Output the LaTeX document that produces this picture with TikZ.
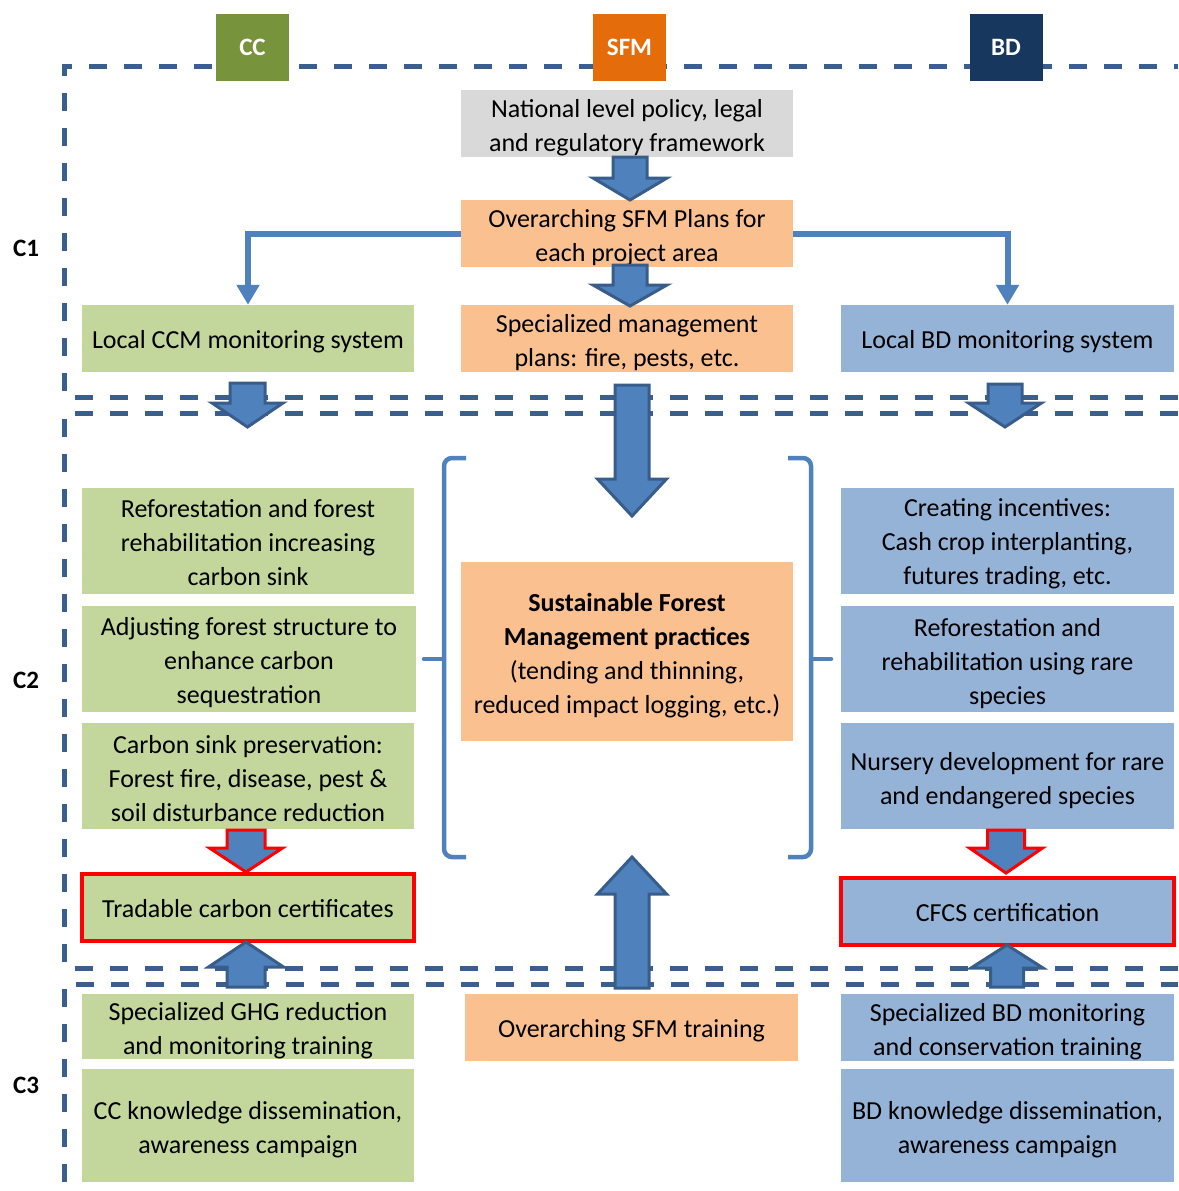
\documentclass[tikz,border=0pt]{standalone}
\usepackage{fontspec}
\setmainfont{Carlito}
\usetikzlibrary{arrows.meta}
\definecolor{cgreen}{HTML}{C3D69B}
\definecolor{cblue}{HTML}{95B3D7}
\definecolor{corange}{HTML}{FAC090}
\definecolor{cgray}{HTML}{D9D9D9}
\definecolor{hcc}{HTML}{77933C}
\definecolor{hsfm}{HTML}{E46C0A}
\definecolor{hbd}{HTML}{17375E}
\definecolor{arrfill}{HTML}{4F81BD}
\definecolor{arrline}{HTML}{385D8A}
\definecolor{dashcol}{HTML}{3A5F8E}
\newcommand\blockarr[7][arrline]{%
  \filldraw[fill=arrfill,draw=#1,line width=3pt,line join=miter]
    ({#2-#6/2},#3) -- ({#2+#6/2},#3) -- ({#2+#6/2},#4) -- ({#2+#7/2},#4)
    -- (#2,#5) -- ({#2-#7/2},#4) -- ({#2-#6/2},#4) -- cycle;}
\begin{document}
\begin{tikzpicture}[x=1pt,y=-1pt,
  bg/.style={rectangle,inner sep=0pt},
  txt/.style={inner sep=0pt,align=center,font=\fontsize{26}{34}\selectfont},
  hdr/.style={rectangle,inner sep=0pt,minimum width=73pt,minimum height=67pt,text=white,font=\fontsize{25}{30}\selectfont\bfseries},
  clab/.style={inner sep=0pt,font=\fontsize{25}{28}\selectfont\bfseries},
  dframe/.style={draw=dashcol,line width=5pt,dash pattern=on 18pt off 17pt},
  conn/.style={draw=arrfill,line width=6pt,-{Triangle[width=22pt,length=20pt]}},
  brk/.style={draw=arrfill,line width=4.5pt,rounded corners=8pt},
  redbox/.style={draw=red,line width=4pt}]
\useasboundingbox (0,0) rectangle (1178,1191);
% dashed frames
\draw[dframe] (1178,397) -- (64,397) -- (64,66) -- (1178,66);
\draw[dframe] (1178,968) -- (64,968) -- (64,413) -- (1178,413);
\draw[dframe] (64,1182) -- (64,984) -- (1178,984);
% header tabs
\node[hdr,fill=hcc] (hcc) at (252.5,47) {CC};
\node[hdr,fill=hsfm] (hsfm) at (629.5,47) {SFM};
\node[hdr,fill=hbd] (hbd) at (1006,47) {BD};
% row labels
\node[clab] (c1) at (26,248) {C1};
\node[clab] (c2) at (26,680) {C2};
\node[clab] (c3) at (26,1085) {C3};
% C1 boxes
\node[bg,fill=cgray,minimum width=332pt,minimum height=67pt] (nat) at (627,123.5) {};
\node[txt] (natT) at ([yshift=-4.5pt]nat.center) {National level policy, legal\\and regulatory framework};
\node[bg,fill=corange,minimum width=332pt,minimum height=67pt] (plans) at (627,233.5) {};
\node[txt] (plansT) at ([yshift=-4.5pt]plans.center) {Overarching SFM Plans for\\each project area};
\node[bg,fill=corange,minimum width=332pt,minimum height=67pt] (spec) at (627,338.5) {};
\node[txt] (specT) at ([yshift=-4.5pt]spec.center) {Specialized management\\plans: fire, pests, etc.};
\node[bg,fill=cgreen,minimum width=332pt,minimum height=67pt] (ccm) at (248,338.5) {};
\node[txt] (ccmT) at ([yshift=-3pt]ccm.center) {Local CCM monitoring system};
\node[bg,fill=cblue,minimum width=333pt,minimum height=67pt] (bdm) at (1007.5,338.5) {};
\node[txt] (bdmT) at ([yshift=-3pt]bdm.center) {Local BD monitoring system};
% C2 left
\node[bg,fill=cgreen,minimum width=332pt,minimum height=106pt] (l1) at (248,541) {};
\node[txt] (l1T) at ([yshift=-1.5pt]l1.center) {Reforestation and forest\\rehabilitation increasing\\carbon sink};
\node[bg,fill=cgreen,minimum width=334pt,minimum height=106pt] (l2) at (249,659) {};
\node[txt] (l2T) at ([yshift=-4pt]l2.center) {Adjusting forest structure to\\enhance carbon\\sequestration};
\node[bg,fill=cgreen,minimum width=332pt,minimum height=106pt] (l3) at (248,776) {};
\node[txt] (l3T) at ([yshift=-2.5pt]l3.center) {Carbon sink preservation:\\Forest fire, disease, pest \&\\soil disturbance reduction};
\node[bg,fill=cgreen,redbox,minimum width=332pt,minimum height=67pt] (tcc) at (248,907.5) {};
\node[txt] (tccT) at ([yshift=-1.5pt]tcc.center) {Tradable carbon certificates};
% C2 right
\node[bg,fill=cblue,minimum width=333pt,minimum height=106pt] (r1) at (1007.5,541) {};
\node[txt] (r1T) at ([yshift=-3pt]r1.center) {Creating incentives:\\Cash crop interplanting,\\futures trading, etc.};
\node[bg,fill=cblue,minimum width=333pt,minimum height=106pt] (r2) at (1007.5,659) {};
\node[txt] (r2T) at ([yshift=-4.5pt]r2.center) {Reforestation and\\rehabilitation using rare\\species};
\node[bg,fill=cblue,minimum width=333pt,minimum height=106pt] (r3) at (1007.5,776) {};
\node[txt] (r3T) at ([yshift=-5pt]r3.center) {Nursery development for rare\\and endangered species};
\node[bg,fill=cblue,redbox,minimum width=333pt,minimum height=67pt] (cfcs) at (1007.5,911.5) {};
\node[txt] (cfcsT) at ([yshift=-1.5pt]cfcs.center) {CFCS certification};
% C2 centre
\node[bg,fill=corange,minimum width=332pt,minimum height=179pt] (sfmp) at (627,651.5) {};
\node[txt] (sfmpT) at ([yshift=-4.5pt]sfmp.center) {\textbf{Sustainable Forest}\\\textbf{Management practices}\\(tending and thinning,\\reduced impact logging, etc.)};
% C3
\node[bg,fill=cgreen,minimum width=332pt,minimum height=65pt] (ghg) at (248,1026.5) {};
\node[txt] (ghgT) at ([yshift=-4.5pt]ghg.center) {Specialized GHG reduction\\and monitoring training};
\node[bg,fill=cgreen,minimum width=332pt,minimum height=113pt] (cck) at (248,1125.5) {};
\node[txt] (cckT) at ([yshift=-4.5pt]cck.center) {CC knowledge dissemination,\\awareness campaign};
\node[bg,fill=corange,minimum width=333pt,minimum height=67pt] (sfmt) at (631.5,1027.5) {};
\node[txt] (sfmtT) at ([yshift=-3.5pt]sfmt.center) {Overarching SFM training};
\node[bg,fill=cblue,minimum width=333pt,minimum height=67pt] (bdt) at (1007.5,1027.5) {};
\node[txt] (bdtT) at ([yshift=-4.5pt]bdt.center) {Specialized BD monitoring\\and conservation training};
\node[bg,fill=cblue,minimum width=333pt,minimum height=113pt] (bdk) at (1007.5,1125.5) {};
\node[txt] (bdkT) at ([yshift=-4.5pt]bdk.center) {BD knowledge dissemination,\\awareness campaign};
% thin connectors
\draw[conn] (plans.west) -| (ccm.north);
\draw[conn] (plans.east) -| (bdm.north);
% brackets
\draw[brk] (466,458) -- (444,458) -- (444,857) -- (466,857);
\draw[draw=arrfill,line width=4.5pt,line cap=round] (444,659) -- (424,659);
\draw[brk] (788,458) -- (811,458) -- (811,857) -- (788,857);
\draw[draw=arrfill,line width=4.5pt,line cap=round] (811,659) -- (831,659);
% block arrows
\blockarr{630}{157}{178}{200}{34}{74}
\blockarr{630}{265}{285}{306}{34}{74}
\blockarr{247.5}{383}{403}{427}{35}{71}
\blockarr{1005}{384}{403}{427}{34}{73}
\blockarr{632}{385}{479}{516}{34}{69}
\blockarr[red]{246}{830}{848}{872}{38}{73}
\blockarr[red]{1006}{830}{848}{873}{37}{73}
\blockarr{246}{987}{967}{942}{38}{75}
\blockarr{1007}{987}{968}{945}{33}{72}
\blockarr{632}{988}{894}{857}{34}{69}
\end{tikzpicture}
\end{document}
